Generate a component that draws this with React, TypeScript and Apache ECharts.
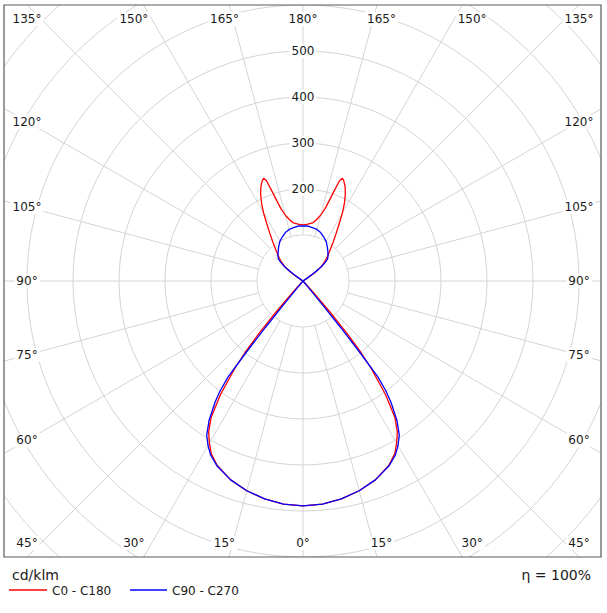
import React, { useEffect, useRef } from 'react';
import * as echarts from 'echarts';

// Luminous intensity (cd/klm) versus gamma angle (degrees)
const GAMMA_C0_C180 = [0, 5, 10, 15, 20, 25, 28, 30, 32, 34, 36, 38, 39, 40, 41, 42, 43, 45, 60, 90, 120, 122, 123, 125, 128, 132, 135, 139, 142, 145, 148, 150, 152, 154, 156, 158, 159, 160, 161, 162, 163, 165, 168, 170, 175, 180];
const I_C0_C180 = [489, 487, 481, 472, 460, 442, 425, 407, 387, 357, 305, 240, 200, 150, 90, 35, 0, 0, 0, 0, 0, 0, 12, 32, 50, 65, 75, 90, 106, 125, 150, 172, 192, 210, 225, 236, 239, 232, 205, 182, 165, 148, 135, 129, 124, 122];

const GAMMA_C90_C270 = [0, 5, 10, 15, 20, 25, 28, 30, 32, 34, 36, 37, 38, 38.5, 39, 39.5, 40, 41, 45, 60, 90, 120, 124, 125, 126, 127, 128, 130, 132, 135, 140, 145, 150, 155, 160, 165, 170, 175, 180];
const I_C90_C270 = [489, 487, 481, 472, 460, 443, 428, 413, 395, 365, 325, 300, 265, 200, 130, 60, 20, 0, 0, 0, 0, 0, 0, 10, 25, 42, 52, 63, 72, 77, 84, 92, 100, 106, 112, 116, 118, 120, 120];

const ANGLE_TICKS = [0, 15, 30, 45, 60, 75, 90, 105, 120, 135, 150, 165, 180];
const RADIUS_LABELS = [200, 300, 400, 500];
const SERIES_NAMES = ['C0 - C180', 'C90 - C270'];
const UNIT = 'cd/klm';
const EFFICIENCY = 'η = 100%';

const CX = 303;
const CY = 281;
const PX_PER_UNIT = 0.46;
const R_INNER = 100;
const R_MAX = 900;
const FONT = 'DejaVu Sans';

function loop(gammas: number[], vals: number[]) {
  const out: number[][] = [];
  for (let i = 0; i < gammas.length; i++) out.push([vals[i], gammas[i]]);
  for (let i = gammas.length - 2; i >= 0; i--) out.push([vals[i], 360 - gammas[i]]);
  return out;
}

function angleLabelElements() {
  const els: any[] = [];
  const hw = 276;
  const hh = 262;
  const ref = 293;
  ANGLE_TICKS.forEach((g) => {
    const sides = g === 0 || g === 180 ? [1] : [1, -1];
    sides.forEach((side) => {
      const rad = (g * Math.PI) / 180;
      const dx = side * Math.sin(rad);
      const dy = Math.cos(rad);
      let x: number;
      let y: number;
      if (Math.abs(dx) / hw > Math.abs(dy) / hh) {
        x = CX + Math.sign(dx) * hw;
        y = CY + (dy / Math.abs(dx)) * hw;
      } else {
        y = CY + Math.sign(dy) * hh;
        let ox = (dx / Math.abs(dy)) * ref;
        if (ox > hw) ox = hw;
        if (ox < -hw) ox = -hw;
        x = CX + ox;
      }
      els.push({
        type: 'text',
        x,
        y,
        z: 120,
        style: {
          text: g + '°',
          fill: '#1a1a1a',
          font: `12px "${FONT}"`,
          align: 'center',
          verticalAlign: 'middle',
          backgroundColor: '#fff',
          padding: [1, 2],
        },
      });
    });
  });
  return els;
}

export default function App() {
  const ref = useRef<HTMLDivElement>(null);
  useEffect(() => {
    if (!ref.current) return;
    const chart = echarts.init(ref.current, undefined, { renderer: 'svg' });
    const grid = '#d4d4d4';
    const masks = [
      { x: 0, y: 0, width: 607, height: 5 },
      { x: 0, y: 557, width: 607, height: 56 },
      { x: 0, y: 0, width: 4, height: 613 },
      { x: 601, y: 0, width: 6, height: 613 },
    ].map((s) => ({ type: 'rect', shape: s, z: 100, silent: true, style: { fill: '#fff' } }));

    const radiusLabels = RADIUS_LABELS.map((v) => ({
      type: 'text',
      x: CX,
      y: CY - v * PX_PER_UNIT,
      z: 120,
      style: {
        text: String(v),
        fill: '#1a1a1a',
        font: `12px "${FONT}"`,
        align: 'center',
        verticalAlign: 'middle',
        backgroundColor: '#fff',
        padding: [1, 2],
      },
    }));

    chart.setOption({
      animation: false,
      backgroundColor: '#fff',
      polar: { center: [CX, CY], radius: [0, R_MAX * PX_PER_UNIT] },
      angleAxis: {
        type: 'value',
        min: 0,
        max: 360,
        interval: 15,
        startAngle: 270,
        clockwise: false,
        z: 0,
        axisLine: { show: false },
        axisTick: { show: false },
        axisLabel: { show: false },
        splitLine: { show: true, lineStyle: { color: grid, width: 1 } },
      },
      radiusAxis: {
        type: 'value',
        min: 0,
        max: R_MAX,
        interval: 100,
        z: 0,
        axisLine: { show: false },
        axisTick: { show: false },
        axisLabel: { show: false },
        splitLine: { show: true, lineStyle: { color: grid, width: 1 } },
      },
      series: [
        {
          name: SERIES_NAMES[0],
          type: 'line',
          coordinateSystem: 'polar',
          data: loop(GAMMA_C0_C180, I_C0_C180),
          showSymbol: false,
          symbol: 'none',
          clip: false,
          smooth: false,
          lineStyle: { color: '#ff0000', width: 1.3 },
          z: 3,
        },
        {
          name: SERIES_NAMES[1],
          type: 'line',
          coordinateSystem: 'polar',
          data: loop(GAMMA_C90_C270, I_C90_C270),
          showSymbol: false,
          symbol: 'none',
          clip: false,
          smooth: false,
          lineStyle: { color: '#0000ff', width: 1.3 },
          z: 4,
        },
      ],
      graphic: {
        elements: [
          {
            type: 'circle',
            z: 1,
            silent: true,
            shape: { cx: CX, cy: CY, r: R_INNER * PX_PER_UNIT - 0.6 },
            style: { fill: '#fff' },
          },
          ...masks,
          {
            type: 'rect',
            z: 110,
            silent: true,
            shape: { x: 4, y: 5, width: 597, height: 552 },
            style: { fill: 'none', stroke: '#5a5a5a', lineWidth: 1.2 },
          },
          ...angleLabelElements(),
          ...radiusLabels,
          {
            type: 'text',
            x: 12,
            y: 575,
            z: 120,
            style: { text: UNIT, fill: '#1a1a1a', font: `14px "${FONT}"`, align: 'left', verticalAlign: 'middle' },
          },
          {
            type: 'line',
            z: 120,
            shape: { x1: 9, y1: 590, x2: 47, y2: 590 },
            style: { stroke: '#ff0000', lineWidth: 1.5 },
          },
          {
            type: 'text',
            x: 52,
            y: 591,
            z: 120,
            style: { text: SERIES_NAMES[0], fill: '#1a1a1a', font: `12px "${FONT}"`, align: 'left', verticalAlign: 'middle' },
          },
          {
            type: 'line',
            z: 120,
            shape: { x1: 130, y1: 590, x2: 167, y2: 590 },
            style: { stroke: '#0000ff', lineWidth: 1.5 },
          },
          {
            type: 'text',
            x: 172,
            y: 591,
            z: 120,
            style: { text: SERIES_NAMES[1], fill: '#1a1a1a', font: `12px "${FONT}"`, align: 'left', verticalAlign: 'middle' },
          },
          {
            type: 'text',
            x: 591,
            y: 575,
            z: 120,
            style: { text: EFFICIENCY, fill: '#1a1a1a', font: `14px "${FONT}"`, align: 'right', verticalAlign: 'middle' },
          },
        ],
      },
    });
    return () => chart.dispose();
  }, []);
  return <div ref={ref} style={{ position: 'absolute', left: 0, top: 0, width: 607, height: 613 }} />;
}
